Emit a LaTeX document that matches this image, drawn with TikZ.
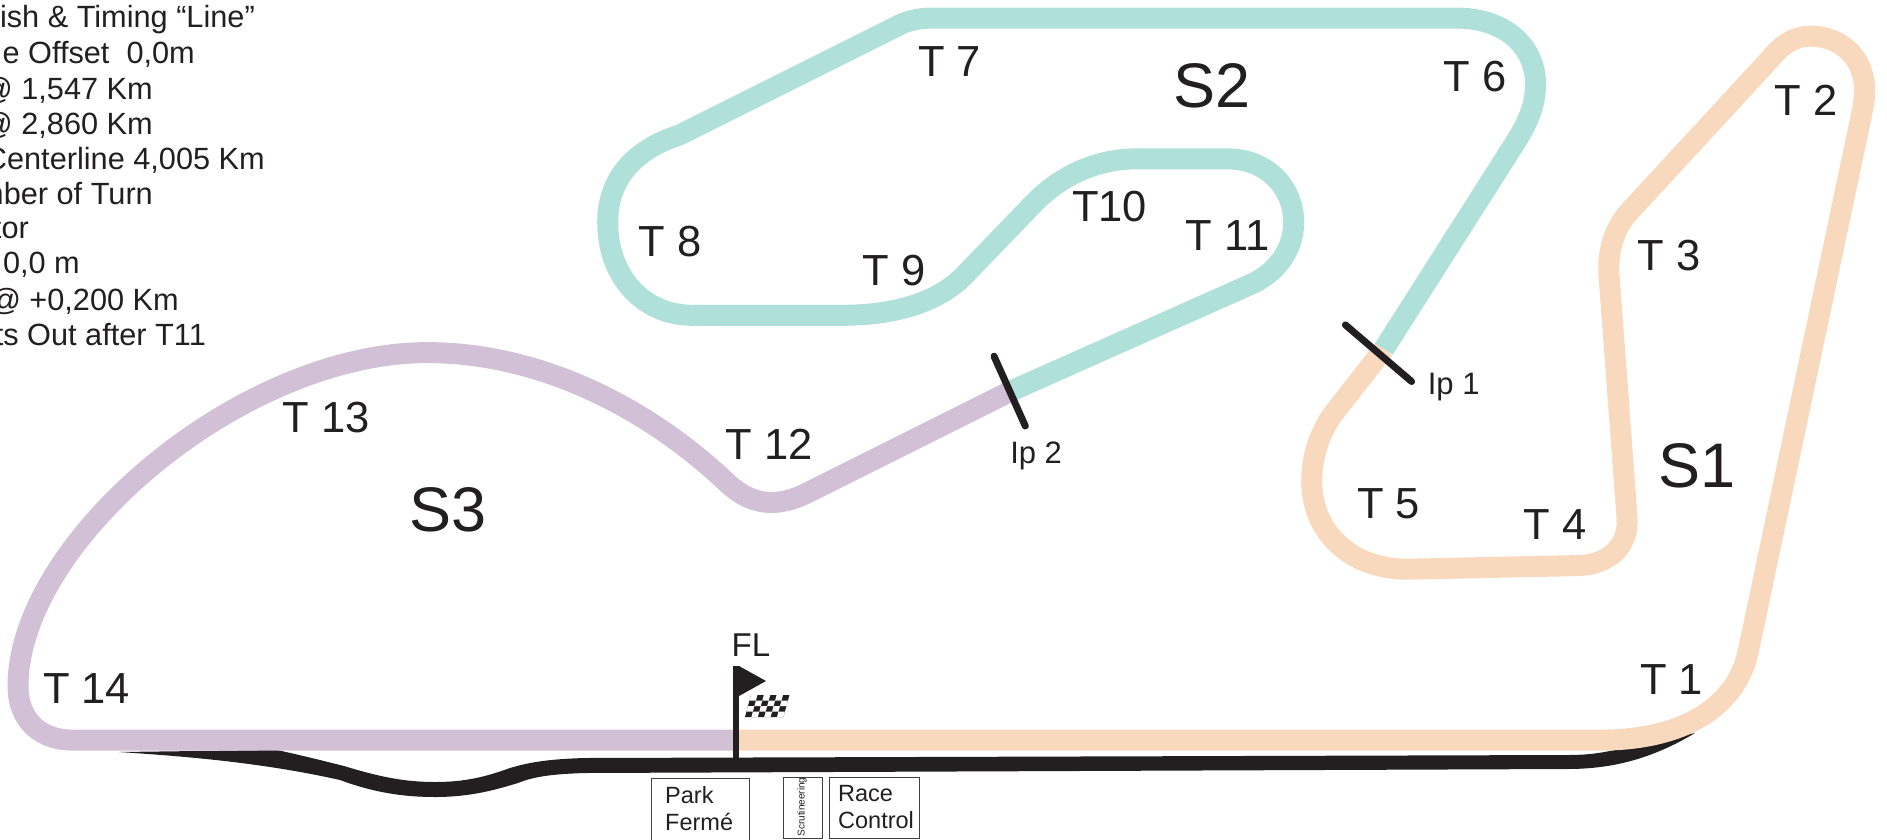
\documentclass[tikz,border=0pt]{standalone}
\usepackage{fontspec}
\setmainfont{Liberation Sans}
\definecolor{ink}{HTML}{231F20}
\definecolor{orangetrack}{HTML}{F8D9BD}
\definecolor{tealtrack}{HTML}{B0E0DA}
\definecolor{purpletrack}{HTML}{D1C0D6}
\begin{document}
\begin{tikzpicture}[x=1pt,y=-1pt,
  trackline/.style={line width=21pt,line join=round},
  turnlabel/.style={inner sep=0pt,text=ink,font=\fontsize{43.5}{43.5}\selectfont},
  sectorlabel/.style={inner sep=0pt,text=ink,font=\fontsize{63}{63}\selectfont},
  iplabel/.style={inner sep=0pt,text=ink,font=\fontsize{31}{31}\selectfont},
  legendline/.style={inner sep=0pt,anchor=base east,text=ink,font=\fontsize{30.7}{30.7}\selectfont},
  boxlabel/.style={inner sep=0pt,text=ink,align=left,font=\fontsize{23.5}{27}\selectfont},
  facility/.style={draw=ink!85,line width=1pt,fill=white},
  marker/.style={line width=7pt,draw=ink,line cap=round}]
\useasboundingbox (0,0) rectangle (1887,839);
% pit lane
\fill[ink] (119,752) .. controls (180,756) and (260,762) .. (340,780)
  .. controls (375,793) and (405,797) .. (435,797)
  .. controls (470,797) and (495,790) .. (518,783)
  .. controls (535,776) and (555,774) .. (585,773)
  -- (1567,769) .. controls (1610,769) and (1650,760) .. (1695,733)
  -- (1620,749) .. controls (1600,753) and (1590,755) .. (1567,755)
  -- (585,758) .. controls (550,759) and (530,762) .. (510,768)
  .. controls (485,777) and (465,782) .. (435,782)
  .. controls (405,782) and (380,777) .. (344,766)
  .. controls (320,760) and (300,755) .. (277,750) -- cycle;
% track
\begin{scope}[x=1.2034pt,y=-1.2034pt]
\draw[trackline,orangetrack] (610,615) -- (1330,615)
  .. controls (1395,615) and (1443,590) .. (1453,540)
  -- (1548,90) .. controls (1556,50) and (1530,30) .. (1505,30)
  .. controls (1490,30) and (1480,38) .. (1470,50)
  -- (1352,178) .. controls (1340,193) and (1336,210) .. (1337,228)
  -- (1352,430) .. controls (1354,455) and (1335,470) .. (1310,470)
  -- (1170,473) .. controls (1120,473) and (1090,440) .. (1090,400)
  .. controls (1090,378) and (1097,360) .. (1107,345)
  -- (1150,290);
\draw[trackline,tealtrack] (1150,290) -- (1255,125)
  .. controls (1268,105) and (1276,90) .. (1276,70)
  .. controls (1276,38) and (1250,15) .. (1210,15)
  -- (775,15) .. controls (762,15) and (752,18) .. (745,22)
  -- (565,112) .. controls (525,125) and (505,150) .. (505,185)
  .. controls (505,230) and (535,262) .. (575,262)
  -- (700,262) .. controls (750,262) and (785,248) .. (805,225)
  -- (860,168) .. controls (885,143) and (915,132) .. (945,132)
  -- (1020,132) .. controls (1052,132) and (1075,155) .. (1075,185)
  .. controls (1075,208) and (1060,227) .. (1040,236)
  -- (840,325);
\draw[trackline,purpletrack] (840,325) -- (670,410)
  .. controls (645,422) and (625,420) .. (605,402)
  .. controls (540,340) and (450,293) .. (355,293)
  .. controls (200,293) and (15,450) .. (15,570)
  .. controls (15,600) and (35,615) .. (60,615)
  -- (610,615);
\coordinate (ipa1) at (1118,270); \coordinate (ipa2) at (1173,317);
\coordinate (ipb1) at (826,296); \coordinate (ipb2) at (852,354);
\draw[marker] (ipa1) -- (ipa2);
\draw[marker] (ipb1) -- (ipb2);
% labels
\node[turnlabel] (t7) at (789,51) {T 7};
\node[sectorlabel] (s2) at (1007,71) {S2};
\node[turnlabel] (t6) at (1226,64) {T 6};
\node[turnlabel] (t2) at (1501,83) {T 2};
\node[turnlabel] (t3) at (1387,212) {T 3};
\node[turnlabel] (t8) at (557,201) {T 8};
\node[turnlabel] (t9) at (743,225) {T 9};
\node[turnlabel] (t10) at (922,172) {T10};
\node[turnlabel] (t11) at (1020,196) {T 11};
\node[turnlabel] (t13) at (271,347) {T 13};
\node[turnlabel] (t12) at (639,369) {T 12};
\node[sectorlabel] (s3) at (372,424) {S3};
\node[turnlabel] (t5) at (1154,419) {T 5};
\node[turnlabel] (t4) at (1292,436) {T 4};
\node[sectorlabel] (s1) at (1410,387) {S1};
\node[turnlabel] (t14) at (72,572) {T 14};
\node[turnlabel] (t1) at (1389,565) {T 1};
\node[iplabel] (ip1) at (1208,322) {Ip 1};
\node[iplabel] (ip2) at (861,379) {Ip 2};
\node[iplabel,font=\fontsize{33}{33}\selectfont] (fl) at (624,536) {FL};
\end{scope}
% flag
\fill[ink] (733,666) rectangle (739,758);
\fill[ink] (739,666) -- (766,681) -- (739,696) -- cycle;
\begin{scope}[shift={(745,717)},x={(6.4pt,0pt)},y={(1.5pt,5.5pt)}]
\fill[ink] (0,0) -- (6,0) -- (6,4) -- (0,4) -- cycle;
\foreach \i in {0,...,5}{\foreach \j in {0,...,3}{
  \pgfmathparse{int(mod(\i+\j,2))}
  \ifnum\pgfmathresult=1 \fill[white] (\i,\j) -- (\i+1,\j) -- (\i+1,\j+1) -- (\i,\j+1) -- cycle;\fi
}}
\end{scope}
% buildings
\node[facility,minimum width=98pt,minimum height=70pt,anchor=north west,inner sep=0pt] (park) at (651,778) {};
\node[facility,minimum width=39pt,minimum height=61pt,anchor=north west,inner sep=0pt] (scrut) at (783,777) {};
\node[facility,minimum width=90pt,minimum height=61pt,anchor=north west,inner sep=0pt] (race) at (829,777) {};
\node[boxlabel,anchor=north west] at (665,786) {Park\\Fermé};
\node[boxlabel,anchor=north west] at (838,785) {Race\\Control};
\node[inner sep=0pt,text=ink,rotate=90,font=\fontsize{10}{10}\selectfont] at (802,807) {Scrutineering};
% legend
\node[legendline] (l1) at (255,27) {ish \& Timing “Line”};
\node[legendline] (l2) at (195,63) {e Offset\ \ 0,0m};
\node[legendline] (l3) at (153,99) {@ 1,547 Km};
\node[legendline] (l4) at (153,134) {@ 2,860 Km};
\node[legendline] (l5) at (265,169) {Centerline 4,005 Km};
\node[legendline] (l6) at (153,204) {mber of Turn};
\node[legendline] (l7) at (29,238) {tor};
\node[legendline] (l8) at (80,273) {0,0 m};
\node[legendline] (l9) at (179,310) {@ +0,200 Km};
\node[legendline] (l10) at (206,345) {ts Out after T11};
\end{tikzpicture}
\end{document}
